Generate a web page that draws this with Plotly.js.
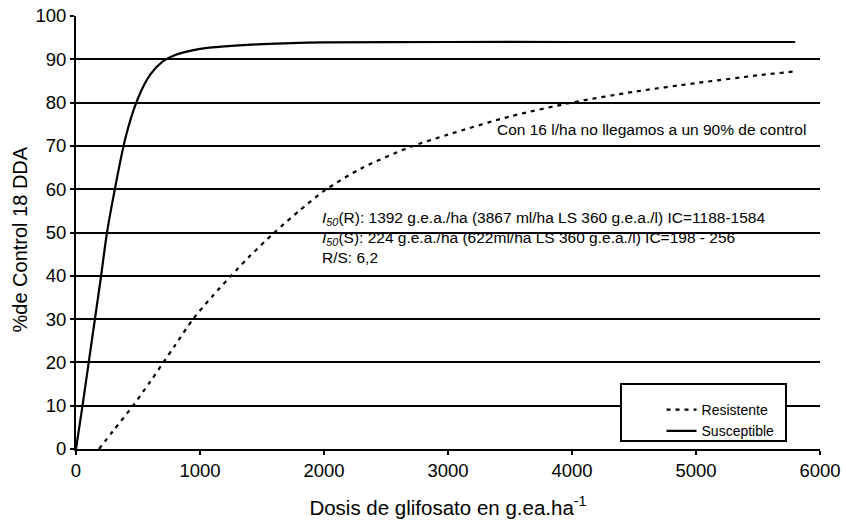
<!DOCTYPE html>
<html>
<head>
<meta charset="utf-8">
<script src="https://cdn.plot.ly/plotly-3.0.1.min.js"></script>
<style>html,body{margin:0;padding:0;background:#fff;}#chart{width:846px;height:526px;}</style>
</head>
<body>
<div id="chart"></div>
<script>
// Dose (g.e.a./ha) and % control
const doseS = [0, 50, 100, 150, 200, 250, 300, 400, 500, 600, 700, 800, 1000, 1200, 1500, 2000, 3000, 4000, 5000, 5800];
const ctrlS = [0, 9.5, 19.5, 29.5, 39.5, 50, 58, 72, 81, 86.5, 89.5, 91, 92.4, 93, 93.5, 93.9, 94, 94, 94, 94];
const doseR = [185, 300, 460, 600, 700, 800, 944, 1100, 1250, 1400, 1600, 1800, 2000, 2300, 2700, 3000, 3500, 4000, 4500, 5000, 5500, 5800];
const ctrlR = [0, 4.2, 10, 15.6, 19.8, 24, 30, 35.3, 40, 44.5, 50, 55, 59.6, 64.8, 69.8, 72.6, 76.8, 80, 82.5, 84.5, 86.3, 87.2];
const seriesNames = ["Resistente", "Susceptible"];
const xTicks = [0, 1000, 2000, 3000, 4000, 5000, 6000];
const yTicks = [0, 10, 20, 30, 40, 50, 60, 70, 80, 90, 100];
const yTitle = "%de Control 18 DDA";

const FONT = "Liberation Sans, Arial, Helvetica, sans-serif";

const traces = [
  {x: doseR, y: ctrlR, name: seriesNames[0], mode: "lines", line: {color: "#000", width: 2.2, dash: "4px,5px", shape: "spline", smoothing: 0.8}},
  {x: doseS, y: ctrlS, name: seriesNames[1], mode: "lines", line: {color: "#000", width: 2.2, shape: "spline", smoothing: 0.8}}
];

const layout = {
  width: 846, height: 526,
  margin: {l: 76, r: 26, t: 16, b: 77},
  paper_bgcolor: "#fff", plot_bgcolor: "#fff",
  font: {family: FONT, color: "#000", size: 18},
  showlegend: true,
  legend: {
    x: 0.787, y: 0.127, xanchor: "left", yanchor: "top",
    borderwidth: 0, bgcolor: "rgba(0,0,0,0)",
    font: {family: FONT, size: 14, color: "#000"},
    tracegroupgap: 0, itemwidth: 30
  },
  shapes: [
    {type: "rect", xref: "paper", yref: "paper", x0: 0.7325, x1: 0.9543, y0: 0.0185, y1: 0.150,
     line: {color: "#000", width: 2}, fillcolor: "#fff", layer: "above"}
  ],
  xaxis: {
    range: [0, 6000], tickvals: xTicks, ticktext: xTicks.map(String),
    showgrid: false, zeroline: false, showline: true, linecolor: "#000", linewidth: 2,
    ticks: "outside", ticklen: 4, tickwidth: 2, tickcolor: "#000",
    tickfont: {size: 18.5},
    title: {text: "Dosis de glifosato en g.ea.ha<sup>-1</sup>", font: {size: 20.5}, standoff: 20}
  },
  yaxis: {
    range: [0, 100], tickvals: yTicks, ticktext: yTicks.map(String),
    showgrid: true, gridcolor: "#000", gridwidth: 2, zeroline: false,
    showline: true, linecolor: "#000", linewidth: 2,
    ticks: "outside", ticklen: 4, tickwidth: 2, tickcolor: "#000",
    tickfont: {size: 18.5}
  },
  annotations: [
    {x: 0, y: 50, xref: "paper", yref: "y", xanchor: "center", yanchor: "middle", showarrow: false,
     text: yTitle, textangle: -90, font: {size: 20}, xshift: -57, yshift: -7},
    {x: 6000, y: 73.8, xref: "x", yref: "y", xanchor: "right", yanchor: "middle", showarrow: false,
     text: "Con 16 l/ha no llegamos a un 90% de control", font: {size: 15.5}, xshift: -12},
    {x: 1968, y: 53.3, xref: "x", yref: "y", xanchor: "left", yanchor: "middle", showarrow: false,
     text: "<i>I</i><sub><i>50</i></sub>(R): 1392 g.e.a./ha (3867 ml/ha LS 360 g.e.a./l) IC=1188-1584", font: {size: 15.5}},
    {x: 1968, y: 48.7, xref: "x", yref: "y", xanchor: "left", yanchor: "middle", showarrow: false,
     text: "<i>I</i><sub><i>50</i></sub>(S): 224 g.e.a./ha (622ml/ha LS 360 g.e.a./l) IC=198 - 256", font: {size: 15.5}},
    {x: 1968, y: 44.3, xref: "x", yref: "y", xanchor: "left", yanchor: "middle", showarrow: false,
     text: "R/S: 6,2", font: {size: 15.5}}
  ]
};

Plotly.newPlot("chart", traces, layout, {displayModeBar: false, staticPlot: true});
</script>
</body>
</html>
